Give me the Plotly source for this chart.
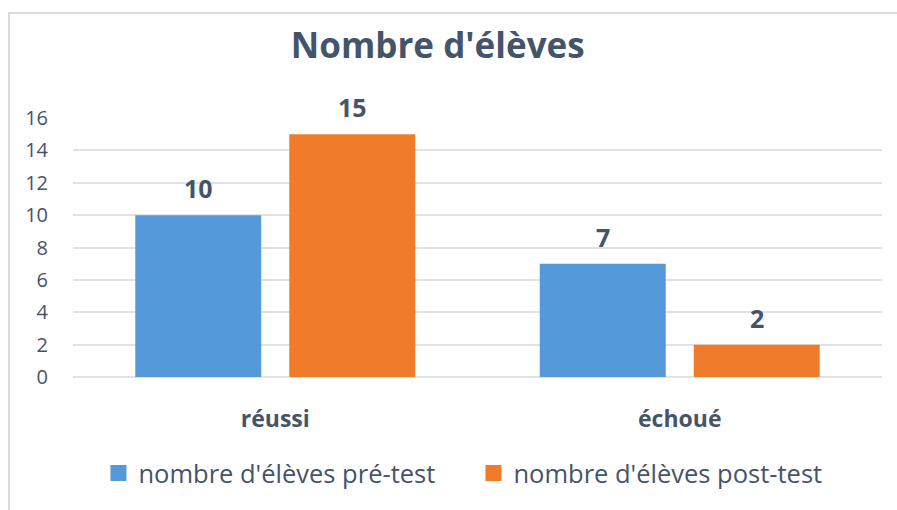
import plotly.graph_objects as go

categories = ["réussi", "échoué"]
pre_test = [10, 7]
post_test = [15, 2]
series_names = ["nombre d'élèves pré-test", "nombre d'élèves post-test"]
y_ticks = [0, 2, 4, 6, 8, 10, 12, 14, 16]

TXT = "#44546a"
FONT = "Open Sans"
BLUE = "#5499da"
ORANGE = "#f07b2b"

fig = go.Figure()
fig.add_trace(go.Bar(x=categories, y=pre_test, name=series_names[0], showlegend=False,
                     marker=dict(color=BLUE, line=dict(width=0))))
fig.add_trace(go.Bar(x=categories, y=post_test, name=series_names[1], showlegend=False,
                     marker=dict(color=ORANGE, line=dict(width=0))))

# legend entries with larger square symbols
for name, col in zip(series_names, (BLUE, ORANGE)):
    fig.add_trace(go.Scatter(x=[None], y=[None], mode="markers", name=name,
                             marker=dict(symbol="square", size=16, color=col)))

for vals, shift in ((pre_test, -77), (post_test, 77)):
    for c, v in zip(categories, vals):
        fig.add_annotation(x=c, y=v, text=f"<b>{v}</b>", showarrow=False,
                           xshift=shift, yshift=27,
                           font=dict(family=FONT, size=25, color=TXT))

L, R, T, B = 73, 15, 118, 133
W, H = 897, 510
pw, ph = W - L - R, H - T - B
fig.add_shape(type="rect", xref="paper", yref="paper",
              x0=(9 - L) / pw, x1=(W + 5 - L) / pw,
              y0=-(H + 5 - T - ph) / ph, y1=1 + (T - 13) / ph,
              line=dict(color="#d9dde3", width=2), fillcolor="rgba(0,0,0,0)", layer="below")

fig.update_layout(
    width=W, height=H,
    margin=dict(l=L, r=R, t=T, b=B, autoexpand=False),
    paper_bgcolor="white", plot_bgcolor="white",
    barmode="group", bargap=0.2386, bargroupgap=0.182,
    title=dict(text="<b>Nombre d'élèves</b>", x=0.488, xanchor="center",
               y=1 - 46 / H, yanchor="middle",
               font=dict(family=FONT, size=35, color=TXT)),
    xaxis=dict(tickfont=dict(family=FONT, size=23, color=TXT),
               tickprefix="<b>", ticksuffix="</b>", showline=False, ticks="",
               ticklabelstandoff=26, automargin=False),
    yaxis=dict(range=[0, 16], tickvals=y_ticks, showgrid=True,
               gridcolor="#dfe2e6", gridwidth=1.5, zeroline=True,
               zerolinecolor="#dfe2e6", zerolinewidth=1.5,
               tickfont=dict(family=FONT, size=20, color=TXT),
               ticklabelstandoff=24, automargin=False),
    legend=dict(orientation="h", x=0.495, xanchor="center", y=-0.372, yanchor="middle",
                font=dict(family=FONT, size=25.5, color=TXT), itemwidth=30,
                entrywidth=330, traceorder="normal"),
    showlegend=True,
)

fig.write_html("out.html", config={"displayModeBar": False},
               post_script="document.body.style.margin='0px';document.body.style.overflow='hidden';")
